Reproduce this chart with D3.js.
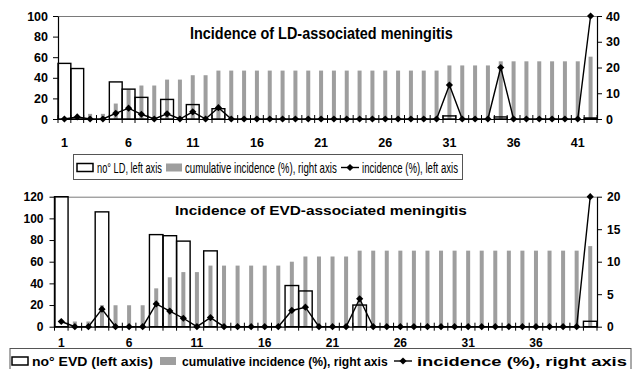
<!DOCTYPE html>
<html>
<head>
<meta charset="utf-8">
<script src="https://cdn.jsdelivr.net/npm/d3@7"></script>
<style>
  body { margin: 0; background: #fff; }
  svg { display: block; }
</style>
</head>
<body>
<div id="chart"></div>
<script>
// ---- data: LD panel (top) ----
const ldWeeks = [1,2,3,4,5,6,7,8,9,10,11,12,13,14,15,16,17,18,19,20,21,
  22,23,24,25,26,27,28,29,30,31,32,33,34,35,36,37,38,39,40,41,42];
const ldCases = [54,49,0,0,36,29,21,0,19,0,14,0,10,0,0,0,0,0,0,0,0,
  0,0,0,0,0,0,0,0,0,3,0,0,0,2,0,0,0,0,0,0,1];
const ldCumInc = [0,0,2,2,6,11.4,13,13,15.3,15.3,17,17,18.8,18.8,18.8,18.8,18.8,18.8,18.8,18.8,18.8,
  18.8,18.8,18.8,18.8,18.8,18.8,18.8,18.8,18.8,20.8,20.8,20.8,20.8,22.4,22.4,22.4,22.4,22.4,22.4,22.4,24.2];
const ldInc = [0,2,0,0,5.5,10.5,4.6,0,5,0,7,0,11,0,0,0,0,0,0,0,0,
  0,0,0,0,0,0,0,0,0,33,0,0,0,50,0,0,0,0,0,0,100];
const ldXLabels = [1,6,11,16,21,26,31,36,41];
const ldLeftTicks = [0,20,40,60,80,100];
const ldRightTicks = [0,10,20,30,40];

// ---- data: EVD panel (bottom) ----
const evdWeeks = [1,2,3,4,5,6,7,8,9,10,11,12,13,14,15,16,17,18,19,20,
  21,22,23,24,25,26,27,28,29,30,31,32,33,34,35,36,37,38,39,40];
const evdCases = [120,0,0,106,0,0,0,85,84,79,0,70,0,0,0,0,0,38,33,0,
  0,0,20,0,0,0,0,0,0,0,0,0,0,0,0,0,0,0,0,5];
const evdCumInc = [0,0.8,0.8,3.3,3.3,3.3,3.3,5.9,7.6,8.4,8.4,9.4,9.4,9.4,9.4,9.4,9.4,10,10.8,10.8,
  10.8,10.8,11.7,11.7,11.7,11.7,11.7,11.7,11.7,11.7,11.7,11.7,11.7,11.7,11.7,11.7,11.7,11.7,11.7,12.4];
const evdInc = [0.8,0,0,2.7,0,0,0,3.5,2.4,1.3,0,1.4,0,0,0,0,0,2.5,3,0,
  0,0,4.3,0,0,0,0,0,0,0,0,0,0,0,0,0,0,0,0,20];
const evdXLabels = [1,6,11,16,21,26,31,36];
const evdLeftTicks = [0,20,40,60,80,100,120];
const evdRightTicks = [0,5,10,15,20];

const GRAY = "#9e9e9e";
const SANS = "'Liberation Sans', Arial, Helvetica, sans-serif";
const NARROW = "'Liberation Sans Narrow', 'Arial Narrow', 'Liberation Sans', Arial, sans-serif";

const svg = d3.select("#chart").append("svg")
  .attr("width", 633)
  .attr("height", 369);

svg.append("rect").attr("width", 633).attr("height", 369).attr("fill", "#fff");

// squeeze/stretch a text horizontally so it spans `len` px starting at x
function fitText(g, x, y, len, text, font) {
  const t = g.append("text")
    .attr("font-family", font.family)
    .attr("font-weight", font.weight)
    .attr("font-size", font.size)
    .text(text);
  const w = t.node().getComputedTextLength();
  t.attr("transform", "translate(" + x + "," + y + ") scale(" + (len / w) + ",1)");
  return t;
}

function drawPanel(p) {
  const g = svg.append("g");

  const x = d3.scaleBand().domain(p.cats).range([p.x0, p.x1]);
  const bw = x.bandwidth();
  const yL = d3.scaleLinear().domain([0, d3.max(p.leftTicks)]).range([p.yBot, p.yTop]);
  const yR = d3.scaleLinear().domain([0, d3.max(p.rightTicks)]).range([p.yBot, p.yTop]);
  const yInc = p.incAxis === "left" ? yL : yR;

  // plot area top border
  g.append("line")
    .attr("x1", p.x0).attr("x2", p.x1)
    .attr("y1", p.yTop + 0.5).attr("y2", p.yTop + 0.5)
    .attr("stroke", "#7a7a7a").attr("stroke-width", 1);

  // cumulative incidence (narrow gray bars, right axis)
  g.selectAll(".cum")
    .data(p.cats.map((c, i) => ({c, v: p.cum[i]})).filter(d => d.v > 0))
    .enter().append("rect")
      .attr("x", d => x(d.c) + bw / 2 - 2)
      .attr("y", d => yR(d.v))
      .attr("width", 4)
      .attr("height", d => yR(0) - yR(d.v))
      .attr("fill", GRAY);

  // case counts (hollow bars, left axis)
  g.selectAll(".cases")
    .data(p.cats.map((c, i) => ({c, v: p.cases[i]})).filter(d => d.v > 0))
    .enter().append("rect")
      .attr("x", d => x(d.c))
      .attr("y", d => yL(d.v))
      .attr("width", bw)
      .attr("height", d => yL(0) - yL(d.v))
      .attr("fill", "none")
      .attr("stroke", "#000")
      .attr("stroke-width", 1.4);

  // x axis
  const xAxis = g.append("g")
    .attr("transform", "translate(0," + p.yBot + ")")
    .call(d3.axisBottom(x).tickValues(p.xLabels).tickSize(0).tickSizeOuter(0).tickPadding(p.xPad));
  xAxis.select(".domain").attr("stroke", "#000").attr("stroke-width", 1.2);
  xAxis.selectAll("text")
    .attr("font-family", SANS).attr("font-weight", "bold")
    .attr("font-size", p.tickFont).attr("fill", "#000");

  // category separator ticks crossing the axis
  const edges = p.cats.map(c => x(c)).concat([p.x1]);
  g.selectAll(".sep")
    .data(edges)
    .enter().append("line")
      .attr("x1", d => d).attr("x2", d => d)
      .attr("y1", p.yBot - 4).attr("y2", p.yBot + 4)
      .attr("stroke", "#000").attr("stroke-width", 1);

  // left axis
  const left = g.append("g")
    .attr("transform", "translate(" + p.x0 + ",0)")
    .call(d3.axisLeft(yL).tickValues(p.leftTicks).tickSize(5).tickSizeOuter(0).tickPadding(p.leftPad));
  left.select(".domain").attr("stroke-width", 1.2);
  left.selectAll("text")
    .attr("font-family", SANS).attr("font-weight", "bold")
    .attr("font-size", p.tickFont).attr("fill", "#000");

  // right axis
  const right = g.append("g")
    .attr("transform", "translate(" + p.x1 + ",0)")
    .call(d3.axisRight(yR).tickValues(p.rightTicks).tickSize(5).tickSizeOuter(0).tickPadding(p.rightPad));
  right.select(".domain").attr("stroke-width", 1.2);
  right.selectAll("text")
    .attr("font-family", SANS).attr("font-weight", "bold")
    .attr("font-size", p.tickFont).attr("fill", "#000");

  // incidence line with diamond markers
  const pts = p.cats.map((c, i) => ({c, v: p.inc[i]}));
  const line = d3.line().x(d => x(d.c) + bw / 2).y(d => yInc(d.v));
  g.append("path")
    .datum(pts)
    .attr("d", line)
    .attr("fill", "none")
    .attr("stroke", "#000")
    .attr("stroke-width", 1.4);

  const diamond = d3.symbol().type(d3.symbolSquare).size(26);
  g.selectAll(".mk")
    .data(pts)
    .enter().append("path")
      .attr("d", diamond)
      .attr("transform", d => "translate(" + (x(d.c) + bw / 2) + "," + yInc(d.v) + ") rotate(45)")
      .attr("fill", "#000");

  // title
  fitText(g, p.title.x, p.title.y, p.title.len, p.title.text,
    {family: p.title.family, weight: "bold", size: p.title.size});

  // legend
  const L = p.legend;
  const lg = g.append("g");
  lg.append("rect")
    .attr("x", L.box[0] + 0.5).attr("y", L.box[1] + 0.5)
    .attr("width", L.box[2]).attr("height", L.box[3])
    .attr("fill", "#fff").attr("stroke", "#555").attr("stroke-width", 1);
  lg.append("rect")
    .attr("x", L.sw1).attr("y", L.swY).attr("width", 16).attr("height", 8)
    .attr("fill", "none").attr("stroke", "#000").attr("stroke-width", 1.5);
  lg.append("rect")
    .attr("x", L.sw2).attr("y", L.swY).attr("width", 16).attr("height", 8)
    .attr("fill", GRAY);
  lg.append("line")
    .attr("x1", L.sw3).attr("x2", L.sw3 + 18)
    .attr("y1", L.swY + 4).attr("y2", L.swY + 4)
    .attr("stroke", "#000").attr("stroke-width", 1.4);
  lg.append("path")
    .attr("d", diamond)
    .attr("transform", "translate(" + (L.sw3 + 9) + "," + (L.swY + 4) + ") rotate(45)");
  L.items.forEach(it => {
    fitText(lg, it.x, L.textY, it.len, it.text,
      {family: L.family, weight: L.weight, size: L.size});
  });
}

drawPanel({
  cats: ldWeeks, cases: ldCases, cum: ldCumInc, inc: ldInc, incAxis: "left",
  xLabels: ldXLabels, leftTicks: ldLeftTicks, rightTicks: ldRightTicks,
  x0: 58, x1: 597, yTop: 16, yBot: 119,
  xPad: 19, leftPad: 5, rightPad: 4, tickFont: 12.5,
  title: {text: "Incidence of LD-associated meningitis", x: 190, y: 39,
          size: 16.5, len: 263, family: NARROW},
  legend: {
    box: [73, 154, 389, 25], swY: 163.5, sw1: 77, sw2: 166, sw3: 341,
    textY: 172.5, family: NARROW, weight: "normal", size: 14,
    items: [
      {text: "no° LD, left axis", x: 97, len: 65},
      {text: "cumulative incidence (%), right axis", x: 185, len: 152},
      {text: "incidence (%), left axis", x: 362, len: 96}
    ]
  }
});

drawPanel({
  cats: evdWeeks, cases: evdCases, cum: evdCumInc, inc: evdInc, incAxis: "right",
  xLabels: evdXLabels, leftTicks: evdLeftTicks, rightTicks: evdRightTicks,
  x0: 54.5, x1: 597, yTop: 196.7, yBot: 326.7,
  xPad: 12, leftPad: 6, rightPad: 5, tickFont: 12,
  title: {text: "Incidence of EVD-associated meningitis", x: 175, y: 214.5,
          size: 13, len: 292, family: SANS},
  legend: {
    box: [9.5, 348, 621, 21], swY: 357, sw1: 12, sw2: 160, sw3: 394,
    textY: 366, family: SANS, weight: "bold", size: 12.5,
    items: [
      {text: "no° EVD (left axis)", x: 32, len: 121},
      {text: "cumulative incidence (%), right axis", x: 182, len: 206},
      {text: "incidence (%), right axis", x: 417, len: 210}
    ]
  }
});
</script>
</body>
</html>
